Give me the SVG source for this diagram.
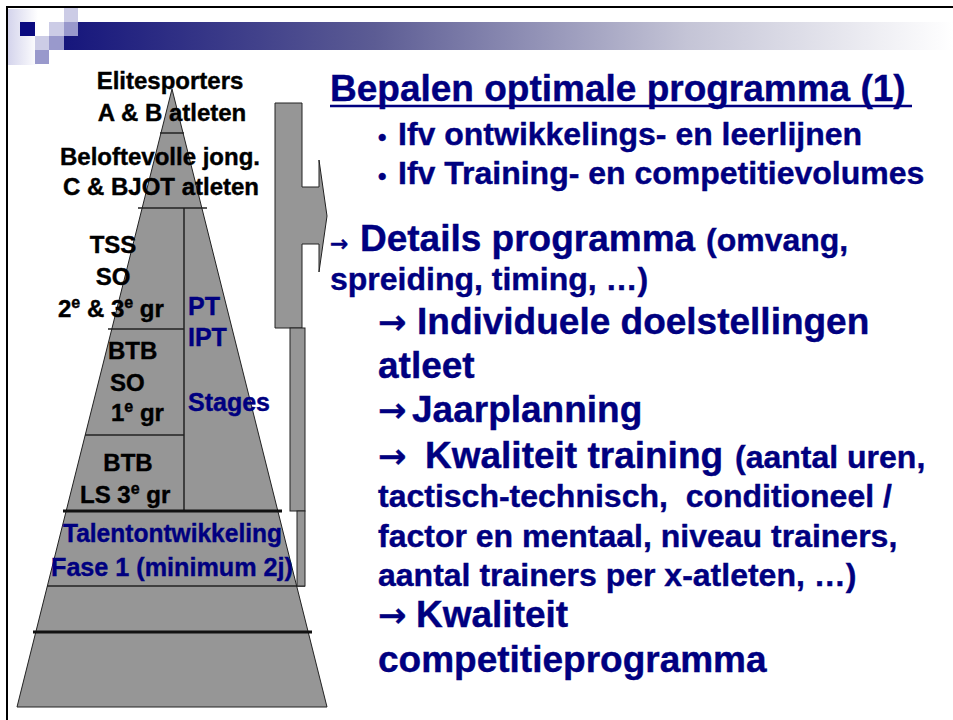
<svg xmlns="http://www.w3.org/2000/svg" width="953" height="720" viewBox="0 0 953 720">
<defs>
<linearGradient id="bar" x1="0" y1="0" x2="1" y2="0">
<stop offset="0" stop-color="#16167c"/>
<stop offset="0.35" stop-color="#5c5c94"/>
<stop offset="0.7" stop-color="#c4c4d6"/>
<stop offset="1" stop-color="#ffffff"/>
</linearGradient>
<linearGradient id="fade" x1="0" y1="0" x2="1" y2="0">
<stop offset="0" stop-color="#d4d4ec"/>
<stop offset="1" stop-color="#ffffff"/>
</linearGradient>
<style>
.t{font-family:"Liberation Sans",Arial,sans-serif;font-weight:bold}
.blk{fill:#000000;stroke:#000000;stroke-width:0.4;font-size:24px}
.nv{fill:#000080;stroke:#000080;stroke-width:0.4}
.lb{fill:#000080;stroke:#000080;stroke-width:0.4;font-size:25px}
.big{font-size:37px}
.mid{font-size:32px}
.arr{font-family:"Noto Sans","DejaVu Sans",sans-serif;font-weight:bold;fill:#000080}
.sh{fill:#969696;stroke:#222222;stroke-width:1}
.ln{stroke:#222222;stroke-width:1.5}
.thk{stroke:#111111;stroke-width:3}
</style>
</defs>
<rect x="0" y="0" width="953" height="720" fill="#ffffff"/>
<g id="header">
<rect x="8" y="9" width="30" height="56" fill="url(#fade)"/>
<rect x="64" y="22" width="889" height="28" fill="url(#bar)"/>
<rect x="20" y="22" width="15" height="14" fill="#0a0a80"/>
<rect x="64" y="8" width="14" height="14" fill="#ccccE6"/>
<rect x="49" y="22" width="15" height="14" fill="#ccccE6"/>
<rect x="64" y="22" width="14" height="14" fill="#9999cc"/>
<rect x="35" y="36" width="14" height="14" fill="#ccccE6"/>
<rect x="49" y="36" width="15" height="14" fill="#9999cc"/>
<rect x="35" y="50" width="14" height="14" fill="#9999cc"/>
<line x1="6" y1="7" x2="953" y2="7" stroke="#000" stroke-width="2"/>
<line x1="7" y1="6" x2="7" y2="720" stroke="#000" stroke-width="2"/>
</g>
<g id="pyramid">
<polygon class="sh" points="172,89 327,707 17,707"/>
<line class="ln" x1="160" y1="133" x2="184" y2="133"/>
<line class="ln" x1="138" y1="208" x2="207" y2="208"/>
<line class="ln" x1="184" y1="208" x2="184" y2="511"/>
<line class="ln" x1="108" y1="329" x2="184" y2="329"/>
<line class="ln" x1="85" y1="435" x2="184" y2="435"/>
<line class="thk" x1="63" y1="511" x2="282" y2="511"/>
<line class="ln" x1="47" y1="586" x2="305" y2="586"/>
<line class="thk" x1="33" y1="632" x2="312" y2="632"/>
</g>
<g id="column">
<path class="sh" d="M275,103 H302 V187 H319 V160 L327,216 L319,272 V244 H302 V328 H275 Z"/>
<rect class="sh" x="290" y="328" width="15" height="183"/>
<rect class="sh" x="297" y="511" width="8" height="75"/>
</g>
<g id="labels-left" class="t">
<text class="blk" x="170" y="89" text-anchor="middle">Elitesporters</text>
<text class="blk" x="172" y="121" text-anchor="middle">A &amp; B atleten</text>
<text class="blk" x="160" y="165" text-anchor="middle">Beloftevolle jong.</text>
<text class="blk" x="161" y="195" text-anchor="middle">C &amp; BJOT atleten</text>
<text class="blk" x="113" y="253" text-anchor="middle">TSS</text>
<text class="blk" x="113" y="285" text-anchor="middle">SO</text>
<text class="blk" x="58" y="317">2<tspan font-size="16" dy="-9">e</tspan><tspan dy="9"> &amp; 3</tspan><tspan font-size="16" dy="-9">e</tspan><tspan dy="9"> gr</tspan></text>
<text class="blk" x="108" y="359">BTB</text>
<text class="blk" x="110" y="391">SO</text>
<text class="blk" x="111" y="421">1<tspan font-size="16" dy="-9">e</tspan><tspan dy="9"> gr</tspan></text>
<text class="blk" x="128" y="471" text-anchor="middle">BTB</text>
<text class="blk" x="80" y="503">LS 3<tspan font-size="16" dy="-9">e</tspan><tspan dy="9"> gr</tspan></text>
<text class="lb" x="188" y="315">PT</text>
<text class="lb" x="188" y="346">IPT</text>
<text class="lb" x="188" y="411">Stages</text>
<text class="lb" x="63" y="542" textLength="219" lengthAdjust="spacingAndGlyphs">Talentontwikkeling</text>
<text class="lb" x="51" y="576" textLength="242" lengthAdjust="spacingAndGlyphs">Fase 1 (minimum 2j)</text>
</g>
<g id="content" class="t nv">
<text class="big" x="330" y="101">Bepalen optimale programma (1)</text>
<line x1="330" y1="106" x2="912" y2="106" stroke="#000080" stroke-width="2.5"/>
<text x="378" y="145" font-size="24">•</text>
<text class="mid" x="398" y="145">Ifv ontwikkelings- en leerlijnen</text>
<text x="378" y="184" font-size="24">•</text>
<text class="mid" x="398" y="184">Ifv Training- en competitievolumes</text>
<text class="arr" x="330" y="251" font-size="22">→</text>
<text class="big" x="360" y="251">Details programma</text>
<text class="mid" x="706" y="251">(omvang,</text>
<text class="mid" x="330" y="290">spreiding, timing, …)</text>
<text class="arr" x="378" y="334" font-size="34">→</text>
<text class="big" x="417" y="334">Individuele doelstellingen</text>
<text class="big" x="378" y="378">atleet</text>
<text class="arr" x="378" y="422" font-size="34">→</text>
<text class="big" x="412" y="422">Jaarplanning</text>
<text class="arr" x="378" y="468" font-size="34">→</text>
<text class="big" x="425" y="468">Kwaliteit training</text>
<text class="mid" x="735" y="468">(aantal uren,</text>
<text class="mid" x="378" y="507" style="white-space:pre">tactisch-technisch,  conditioneel /</text>
<text class="mid" x="378" y="547">factor en mentaal, niveau trainers,</text>
<text class="mid" x="378" y="586">aantal trainers per x-atleten, …)</text>
<text class="arr" x="378" y="627" font-size="34">→</text>
<text class="big" x="416" y="627">Kwaliteit</text>
<text class="big" x="378" y="672">competitieprogramma</text>
</g>
</svg>
